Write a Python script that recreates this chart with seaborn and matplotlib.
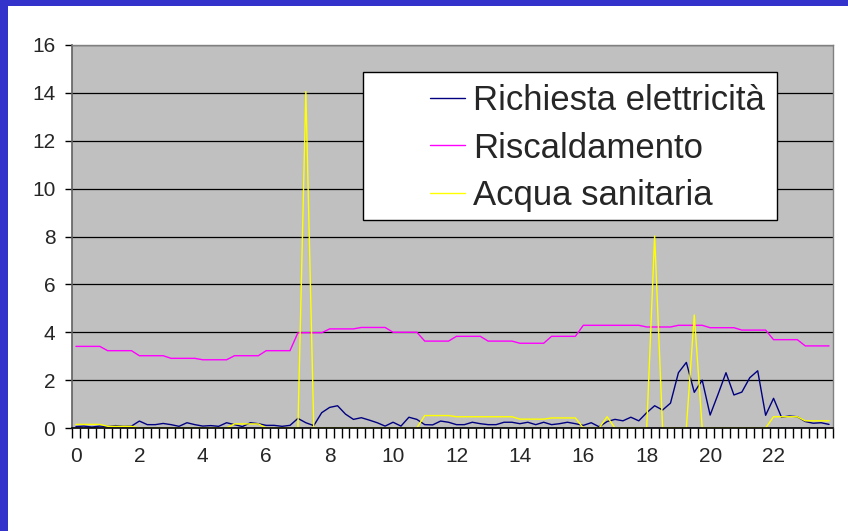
import numpy as np
import pandas as pd
import matplotlib
matplotlib.use("Agg")
import matplotlib.pyplot as plt
import seaborn as sns
from matplotlib.patches import Rectangle

# ---- data (96 quarter-hour slots) ----
hour_labels = ["0", "2", "4", "6", "8", "10", "12", "14", "16", "18", "20", "22"]
series_names = ["Richiesta elettricità", "Riscaldamento", "Acqua sanitaria"]
series_colors = ["#000080", "#FF00FF", "#FFFF00"]

elettricita = [
    0.06, 0.08, 0.04, 0.08, 0.06, 0.10, 0.07, 0.08, 0.29, 0.14, 0.14, 0.19,
    0.14, 0.07, 0.22, 0.14, 0.08, 0.10, 0.07, 0.22, 0.14, 0.06, 0.22, 0.18,
    0.11, 0.11, 0.07, 0.11, 0.40, 0.22, 0.10, 0.64, 0.86, 0.93, 0.58, 0.36,
    0.43, 0.33, 0.22, 0.08, 0.24, 0.08, 0.45, 0.36, 0.14, 0.13, 0.29, 0.24,
    0.14, 0.14, 0.24, 0.18, 0.14, 0.14, 0.24, 0.24, 0.18, 0.24, 0.14, 0.24,
    0.14, 0.18, 0.24, 0.18, 0.11, 0.22, 0.05, 0.27, 0.36, 0.30, 0.45, 0.30,
    0.64, 0.93, 0.75, 1.04, 2.31, 2.74, 1.49, 2.00, 0.54, 1.41, 2.31, 1.38,
    1.50, 2.10, 2.39, 0.53, 1.24, 0.45, 0.50, 0.47, 0.27, 0.20, 0.22, 0.15,
]

riscaldamento = [
    3.41, 3.41, 3.41, 3.41, 3.23, 3.23, 3.23, 3.23, 3.02, 3.02, 3.02, 3.02,
    2.91, 2.91, 2.91, 2.91, 2.85, 2.85, 2.85, 2.85, 3.02, 3.02, 3.02, 3.02,
    3.23, 3.23, 3.23, 3.23, 3.98, 3.98, 3.98, 3.98, 4.14, 4.14, 4.14, 4.14,
    4.20, 4.20, 4.20, 4.20, 4.00, 4.00, 4.00, 4.00, 3.63, 3.63, 3.63, 3.63,
    3.83, 3.83, 3.83, 3.83, 3.63, 3.63, 3.63, 3.63, 3.54, 3.54, 3.54, 3.54,
    3.83, 3.83, 3.83, 3.83, 4.29, 4.29, 4.29, 4.29, 4.29, 4.29, 4.29, 4.29,
    4.22, 4.22, 4.22, 4.22, 4.29, 4.29, 4.29, 4.29, 4.19, 4.19, 4.19, 4.19,
    4.09, 4.09, 4.09, 4.09, 3.69, 3.69, 3.69, 3.69, 3.43, 3.43, 3.43, 3.43,
]

acqua = [
    0.15, 0.15, 0.15, 0.15, 0.07, 0.07, 0.07, 0.07, 0.00, 0.00, 0.00, 0.00,
    0.00, 0.00, 0.00, 0.00, 0.00, 0.00, 0.00, 0.00, 0.17, 0.17, 0.17, 0.17,
    0.00, 0.00, 0.00, 0.00, 0.00, 14.05, 0.00, 0.00, 0.00, 0.00, 0.00, 0.00,
    0.00, 0.00, 0.00, 0.00, 0.00, 0.00, 0.00, 0.00, 0.52, 0.52, 0.52, 0.52,
    0.47, 0.47, 0.47, 0.47, 0.47, 0.47, 0.47, 0.47, 0.37, 0.37, 0.37, 0.37,
    0.42, 0.42, 0.42, 0.42, 0.00, 0.00, 0.00, 0.47, 0.00, 0.00, 0.00, 0.00,
    0.00, 8.02, 0.00, 0.00, 0.00, 0.00, 4.72, 0.00, 0.00, 0.00, 0.00, 0.00,
    0.00, 0.00, 0.00, 0.00, 0.47, 0.47, 0.47, 0.47, 0.30, 0.30, 0.30, 0.30,
]

y_ticks = [0, 2, 4, 6, 8, 10, 12, 14, 16]

# ---- long-form table ----
n = len(elettricita)
wide = pd.DataFrame({
    "slot": np.arange(n),
    series_names[0]: elettricita,
    series_names[1]: riscaldamento,
    series_names[2]: acqua,
})
df = wide.melt(id_vars="slot", var_name="serie", value_name="valore")

sns.set_theme(style="white")
plt.rcParams["font.family"] = ["Liberation Sans", "DejaVu Sans"]

W, H = 848, 531
fig = plt.figure(figsize=(W / 100, H / 100), dpi=100)
fig.patch.set_facecolor("white")

# slide border (blue strips on left and top)
fig.add_artist(Rectangle((0, 0), 8 / W, 1, transform=fig.transFigure,
                         facecolor="#3333CC", edgecolor="none", zorder=0))
fig.add_artist(Rectangle((0, 1 - 6 / H), 1, 6 / H, transform=fig.transFigure,
                         facecolor="#3333CC", edgecolor="none", zorder=0))

left, right, top, bottom = 72, 833, 45, 428
ax = fig.add_axes([left / W, 1 - bottom / H, (right - left) / W, (bottom - top) / H])
ax.set_facecolor("#C0C0C0")

sns.lineplot(data=df, x="slot", y="valore", hue="serie",
             hue_order=series_names,
             palette=dict(zip(series_names, series_colors)),
             linewidth=1.0, ax=ax, legend=True)

ax.set_xlim(-0.5, n - 0.5)
ax.set_ylim(0, 16)
ax.set_xlabel("")
ax.set_ylabel("")

# y axis
ax.set_yticks(y_ticks)
ax.set_yticklabels([str(v) for v in y_ticks])
ax.yaxis.grid(True, color="#000000", linewidth=0.9)
ax.set_axisbelow(True)
ax.tick_params(axis="y", which="major", direction="out", length=5, width=1,
               color="#000000", labelsize=15, pad=7, left=True)

# x axis: category ticks at boundaries, labels every 8 slots
ax.set_xticks(np.arange(0, n, 8))
ax.set_xticklabels(hour_labels)
ax.set_xticks(np.arange(-0.5, n, 1), minor=True)
ax.tick_params(axis="x", which="major", length=0, labelsize=15, pad=14, bottom=True)
ax.tick_params(axis="x", which="minor", direction="out", length=7, width=1,
               color="#000000", bottom=True)

for side in ["top", "right"]:
    ax.spines[side].set_color("#808080")
    ax.spines[side].set_linewidth(1)
ax.spines["left"].set_color("#606060")
ax.spines["left"].set_linewidth(1.2)
ax.spines["bottom"].set_color("#000000")
ax.spines["bottom"].set_linewidth(1.2)

# legend box
ax.add_patch(Rectangle((363 / W, 1 - 220 / H), (777 - 363) / W, (220 - 72) / H,
                       transform=fig.transFigure, facecolor="white",
                       edgecolor="black", linewidth=1, zorder=6, clip_on=False))
handles, labels = ax.get_legend_handles_labels()
leg = ax.legend(handles, labels, loc="upper left",
                bbox_to_anchor=(430 / W, 1 - 84 / H), bbox_transform=fig.transFigure,
                frameon=False, fontsize=25, handlelength=1.0, handletextpad=0.24,
                labelspacing=0.42, borderpad=0, borderaxespad=0)
leg.set_zorder(7)
for line in leg.get_lines():
    line.set_linewidth(1.0)

fig.savefig("out.png", dpi=100)
